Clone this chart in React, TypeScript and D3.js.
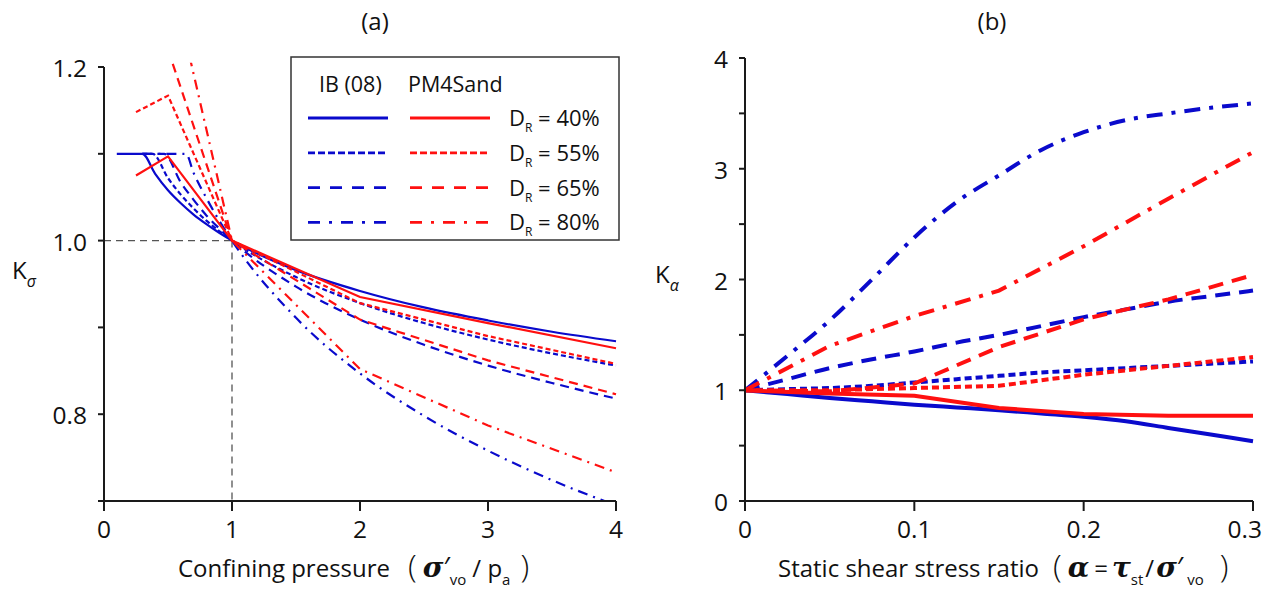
import React from "react";
import * as d3 from "d3";

// ---- Panel (a): K_sigma vs confining pressure ----
// Idriss & Boulanger (2008) relations, read at these pressures
const ibSigma40 = [[0.1, 1.1], [0.3, 1.1], [0.4, 1.077], [0.5, 1.058], [0.6, 1.043], [0.7, 1.03], [0.8, 1.019], [0.9, 1.009], [1, 1], [1.5, 0.966], [2, 0.942], [2.5, 0.923], [3, 0.908], [3.5, 0.895], [4, 0.884]];
const ibSigma55 = [[0.3, 1.1], [0.38, 1.1], [0.5, 1.072], [0.6, 1.053], [0.7, 1.037], [0.8, 1.023], [0.9, 1.011], [1, 1], [1.5, 0.958], [2, 0.928], [2.5, 0.905], [3, 0.886], [3.5, 0.87], [4, 0.856]];
const ibSigma65 = [[0.3, 1.1], [0.47, 1.1], [0.6, 1.067], [0.7, 1.047], [0.8, 1.029], [0.9, 1.014], [1, 1], [1.5, 0.947], [2, 0.909], [2.5, 0.88], [3, 0.856], [3.5, 0.836], [4, 0.818]];
const ibSigma80 = [[0.3, 1.1], [0.64, 1.1], [0.7, 1.078], [0.8, 1.049], [0.9, 1.023], [1, 1], [1.5, 0.911], [2, 0.847], [2.5, 0.798], [3, 0.758], [3.5, 0.724], [4, 0.695]];
// PM4Sand simulations
const pmSigma40 = [[0.25, 1.075], [0.5, 1.097], [1, 1], [2, 0.935], [3, 0.905], [4, 0.876]];
const pmSigma55 = [[0.25, 1.148], [0.5, 1.167], [1, 1], [2, 0.928], [3, 0.89], [4, 0.858]];
const pmSigma65 = [[0.5, 1.22], [1, 1], [2, 0.909], [3, 0.862], [4, 0.823]];
const pmSigma80 = [[0.5, 1.32], [1, 1], [2, 0.852], [3, 0.787], [4, 0.733]];

const sigmaXTicks = [0, 1, 2, 3, 4];
const sigmaYTicks = [0.7, 0.8, 0.9, 1.0, 1.1, 1.2];
const sigmaYLabels = [0.8, 1.0, 1.2];

// ---- Panel (b): K_alpha vs static shear stress ratio ----
const alphaX = [0, 0.025, 0.05, 0.075, 0.1, 0.125, 0.15, 0.175, 0.2, 0.225, 0.25, 0.275, 0.3];
const ibAlpha40 = [1, 0.965, 0.93, 0.9, 0.87, 0.845, 0.82, 0.79, 0.76, 0.72, 0.66, 0.6, 0.54];
const ibAlpha55 = [1, 1.01, 1.02, 1.04, 1.07, 1.1, 1.13, 1.16, 1.18, 1.2, 1.22, 1.24, 1.26];
const ibAlpha65 = [1, 1.1, 1.2, 1.28, 1.35, 1.43, 1.5, 1.58, 1.66, 1.73, 1.8, 1.85, 1.9];
const ibAlpha80 = [1, 1.31, 1.63, 2.0, 2.38, 2.7, 2.94, 3.17, 3.33, 3.44, 3.5, 3.55, 3.59];
const pmAlphaX = [0, 0.05, 0.1, 0.15, 0.2, 0.25, 0.3];
const pmAlpha40 = [1, 0.97, 0.95, 0.84, 0.785, 0.77, 0.77];
const pmAlpha55 = [1, 1.0, 1.02, 1.04, 1.14, 1.22, 1.3];
const pmAlpha65 = [1, 0.99, 1.06, 1.39, 1.64, 1.82, 2.04];
const pmAlpha80 = [1, 1.4, 1.67, 1.9, 2.3, 2.73, 3.15];

const alphaXTicks = [0, 0.1, 0.2, 0.3];
const alphaYTicks = [0, 0.5, 1, 1.5, 2, 2.5, 3, 3.5, 4];
const alphaYLabels = [0, 1, 2, 3, 4];

const densities = ["40%", "55%", "65%", "80%"];

const BLUE = "#0a0acc";
const RED = "#ff1010";
const AXIS = "#1a1a1a";
const FONT = "'Open Sans', 'Noto Sans', sans-serif";
const GREEK = "'DejaVu Serif', serif";

// dash patterns per density (solid, short dash, long dash, dash-dot)
const dashThin = [null, "5,3", "9,6", "10,6,2,6"];
const dashThick = [null, "7,4", "15,9", "16,9,4,9"];
const dashLegend = [null, "7,3", "12,10", "12,9,3,9"];

const xA = d3.scaleLinear().domain([0, 4]).range([104, 616]);
const yA = d3.scaleLinear().domain([0.7, 1.2]).range([501, 67]);
const xB = d3.scaleLinear().domain([0, 0.3]).range([745, 1253]);
const yB = d3.scaleLinear().domain([0, 4]).range([501, 58]);

export default function App() {
  const lineA = d3
    .line<number[]>()
    .x((d) => xA(d[0]))
    .y((d) => yA(d[1]));
  const lineASmooth = d3
    .line<number[]>()
    .x((d) => xA(d[0]))
    .y((d) => yA(d[1]))
    .curve(d3.curveMonotoneX);
  const lineB = d3
    .line<number>()
    .x((_, i) => xB(alphaX[i]))
    .y((d) => yB(d))
    .curve(d3.curveMonotoneX);
  const lineBpm = d3
    .line<number>()
    .x((_, i) => xB(pmAlphaX[i]))
    .y((d) => yB(d));

  const ibSigma = [ibSigma40, ibSigma55, ibSigma65, ibSigma80];
  const pmSigma = [pmSigma40, pmSigma55, pmSigma65, pmSigma80];
  const ibAlpha = [ibAlpha40, ibAlpha55, ibAlpha65, ibAlpha80];
  const pmAlpha = [pmAlpha40, pmAlpha55, pmAlpha65, pmAlpha80];

  const tickFont = 24.5;

  return (
    <svg
      width={1263}
      height={596}
      style={{ position: "absolute", left: 0, top: 0, background: "#fff" }}
      fontFamily={FONT}
    >
      <defs>
        <clipPath id="clipA">
          <rect x={xA(0)} y={yA(1.205)} width={xA(4) - xA(0) + 2} height={yA(0.7) - yA(1.205)} />
        </clipPath>
      </defs>

      {/* ===== panel (a) ===== */}
      <text x={375} y={30} fontSize={24} textAnchor="middle" fill="#111">(a)</text>

      {/* reference lines at K = 1, p = 1 */}
      <line x1={xA(0)} x2={xA(1)} y1={yA(1)} y2={yA(1)} stroke="#555" strokeWidth={1.3} strokeDasharray="7,5" />
      <line x1={xA(1)} x2={xA(1)} y1={yA(1)} y2={yA(0.7)} stroke="#555" strokeWidth={1.3} strokeDasharray="7,5" />

      <g clipPath="url(#clipA)" fill="none">
        {ibSigma.map((s, i) => (
          <path key={"ib" + i} d={lineASmooth(s) || ""} stroke={BLUE} strokeWidth={2.2}
            strokeDasharray={dashThin[i] || undefined} />
        ))}
        {pmSigma.map((s, i) => (
          <path key={"pm" + i} d={lineA(s) || ""} stroke={RED} strokeWidth={2.2}
            strokeDasharray={dashThin[i] || undefined} />
        ))}
      </g>

      {/* axes */}
      <line x1={xA(0)} x2={xA(0)} y1={yA(1.2)} y2={yA(0.7)} stroke={AXIS} strokeWidth={2} />
      <line x1={xA(0) - 6} x2={xA(4)} y1={yA(0.7)} y2={yA(0.7)} stroke={AXIS} strokeWidth={2} />
      {sigmaYTicks.map((t) => (
        <line key={"ya" + t} x1={xA(0) - 6} x2={xA(0)} y1={yA(t)} y2={yA(t)} stroke={AXIS} strokeWidth={2} />
      ))}
      {sigmaYLabels.map((t) => (
        <text key={"yal" + t} x={xA(0) - 17} y={yA(t) + 10} fontSize={tickFont} textAnchor="end" fill="#111">
          {t.toFixed(1)}
        </text>
      ))}
      {sigmaXTicks.map((t) => (
        <g key={"xa" + t}>
          <line x1={xA(t)} x2={xA(t)} y1={yA(0.7)} y2={yA(0.7) + 10} stroke={AXIS} strokeWidth={2} />
          <text x={xA(t)} y={yA(0.7) + 37} fontSize={tickFont} textAnchor="middle" fill="#111">{t}</text>
        </g>
      ))}

      {/* axis titles */}
      <text x={12} y={279} fontSize={24} fill="#111">
        K<tspan fontSize={16} dy={8} fontStyle="italic">σ</tspan>
      </text>
      <text x={178} y={577} fontSize={24} fill="#111">
        Confining pressure
        <tspan dx={18} fontSize={32} fontWeight={200}>(</tspan>
        <tspan dx={6} fontFamily={GREEK} fontStyle="italic" fontWeight="bold" fontSize={28}>σ</tspan>
        <tspan fontSize={28}>′</tspan>
        <tspan fontSize={15} dy={8}>vo</tspan>
        <tspan dy={-8} dx={6}>/ p</tspan>
        <tspan fontSize={15} dy={8}>a</tspan>
        <tspan dy={-8} dx={10} fontSize={32} fontWeight={200}>)</tspan>
      </text>

      {/* legend */}
      <rect x={291} y={57} width={328} height={183} fill="#fff" stroke="#333" strokeWidth={1.5} />
      <text x={319} y={92} fontSize={21.5} fill="#111">IB (08)</text>
      <text x={408} y={92} fontSize={21.5} fill="#111">PM4Sand</text>
      {densities.map((dr, i) => {
        const ry = 118 + i * 34.8;
        return (
          <g key={"lg" + i}>
            <line x1={308} x2={388} y1={ry} y2={ry} stroke={BLUE} strokeWidth={2.8}
              strokeDasharray={dashLegend[i] || undefined} />
            <line x1={410} x2={490} y1={ry} y2={ry} stroke={RED} strokeWidth={2.8}
              strokeDasharray={dashLegend[i] || undefined} />
            <text x={509} y={ry + 8} fontSize={22} fill="#111">
              D<tspan fontSize={12} dy={6}>R</tspan>
              <tspan dy={-6}> = {dr}</tspan>
            </text>
          </g>
        );
      })}

      {/* ===== panel (b) ===== */}
      <text x={992} y={30} fontSize={24} textAnchor="middle" fill="#111">(b)</text>

      <g fill="none">
        {ibAlpha.map((s, i) => (
          <path key={"iba" + i} d={lineB(s) || ""} stroke={BLUE} strokeWidth={4}
            strokeDasharray={dashThick[i] || undefined} />
        ))}
        {pmAlpha.map((s, i) => (
          <path key={"pma" + i} d={lineBpm(s) || ""} stroke={RED} strokeWidth={4}
            strokeDasharray={dashThick[i] || undefined} />
        ))}
      </g>

      <line x1={xB(0)} x2={xB(0)} y1={yB(4)} y2={yB(0)} stroke={AXIS} strokeWidth={2} />
      <line x1={xB(0) - 6} x2={xB(0.3)} y1={yB(0)} y2={yB(0)} stroke={AXIS} strokeWidth={2} />
      {alphaYTicks.map((t) => (
        <line key={"yb" + t} x1={xB(0) - 6} x2={xB(0)} y1={yB(t)} y2={yB(t)} stroke={AXIS} strokeWidth={2} />
      ))}
      {alphaYLabels.map((t) => (
        <text key={"ybl" + t} x={xB(0) - 17} y={yB(t) + 10} fontSize={tickFont} textAnchor="end" fill="#111">{t}</text>
      ))}
      {alphaXTicks.map((t, i) => (
        <g key={"xb" + t}>
          <line x1={xB(t)} x2={xB(t)} y1={yB(0)} y2={yB(0) + 10} stroke={AXIS} strokeWidth={2} />
          <text x={i === alphaXTicks.length - 1 ? 1262 : xB(t)} y={yB(0) + 37} fontSize={tickFont}
            textAnchor={i === alphaXTicks.length - 1 ? "end" : "middle"} fill="#111">{t}</text>
        </g>
      ))}

      <text x={655} y={283} fontSize={24} fill="#111">
        K<tspan fontSize={16} dy={8} fontStyle="italic">α</tspan>
      </text>
      <text x={778} y={577} fontSize={24} fill="#111">
        Static shear stress ratio
        <tspan dx={14} fontSize={32} fontWeight={200}>(</tspan>
        <tspan dx={6} fontFamily={GREEK} fontStyle="italic" fontWeight="bold" fontSize={28}>α</tspan>
        <tspan dx={5}>=</tspan>
        <tspan dx={4} fontFamily={GREEK} fontStyle="italic" fontWeight="bold" fontSize={28}>τ</tspan>
        <tspan fontSize={15} dy={8}>st</tspan>
        <tspan dy={-8} dx={2}>/</tspan>
        <tspan dx={2} fontFamily={GREEK} fontStyle="italic" fontWeight="bold" fontSize={28}>σ</tspan>
        <tspan fontSize={28}>′</tspan>
        <tspan fontSize={15} dy={8} dx={4}>vo</tspan>
        <tspan dy={-8} dx={16} fontSize={32} fontWeight={200}>)</tspan>
      </text>
    </svg>
  );
}
